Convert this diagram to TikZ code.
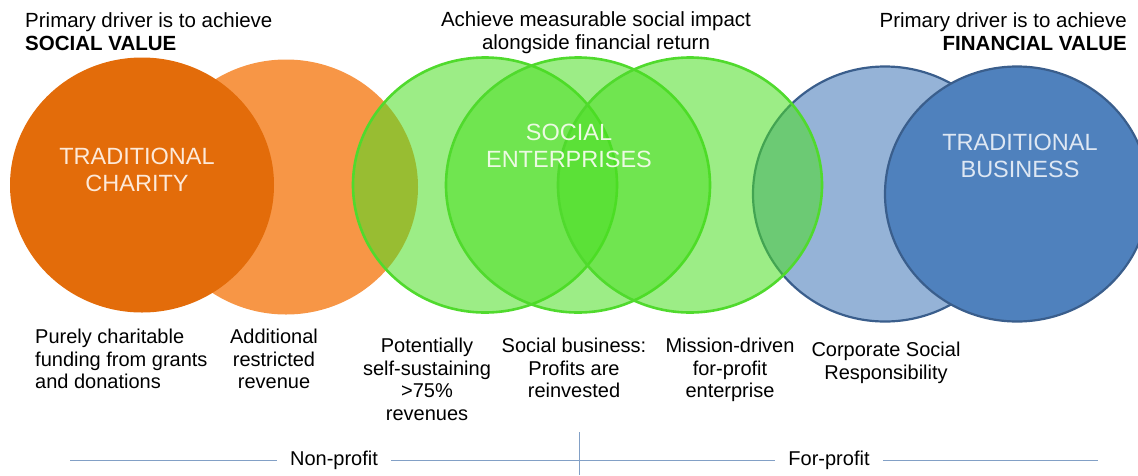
\documentclass[tikz,border=0pt]{standalone}
\usepackage{fontspec}
\setmainfont{Liberation Sans}
\usepackage{xcolor}
\usepackage{tikz}
\usetikzlibrary{shapes.geometric,positioning}
\definecolor{charityorange}{RGB}{227,108,10}
\definecolor{revenueorange}{RGB}{247,150,70}
\definecolor{segreen}{RGB}{75,222,35}
\definecolor{segreenrim}{RGB}{80,218,45}
\definecolor{csrblue}{RGB}{149,179,215}
\definecolor{bizblue}{RGB}{79,129,189}
\definecolor{bluerim}{RGB}{58,94,140}
\definecolor{axisblue}{RGB}{130,160,198}

\tikzset{
  bubble/.style={ellipse, minimum width=264pt, minimum height=255pt, inner sep=0pt},
  greenbubble/.style={bubble, fill=segreen, fill opacity=0.55, draw=segreenrim, line width=2.6pt},
  bluebubble/.style={bubble, draw=bluerim, line width=2.2pt},
  inlabel/.style={align=center, inner sep=0pt, font=\fontsize{23.5}{26.5}\selectfont},
  toplabel/.style={inner sep=0pt, font=\fontsize{20.5}{23}\selectfont},
  footlabel/.style={align=center, inner sep=0pt, font=\fontsize{20}{22.5}\selectfont},
  axislabel/.style={inner ysep=0pt, inner xsep=13pt, font=\fontsize{20}{22.5}\selectfont},
  axisline/.style={axisblue, line width=0.9pt}
}

\begin{document}
\begin{tikzpicture}[x=1pt, y=-1pt]
    \clip (0,0) rectangle (1138,475);

    % Charity side
    \node[bubble, fill=revenueorange] (revenue) at (286,187) {};
    \node[bubble, fill=charityorange] (charity) at (142,185) {};

    % Business side
    \node[bluebubble, fill=csrblue] (csr) at (885,194) {};
    \node[bluebubble, fill=bizblue] (business) at (1017,194) {};

    % Social enterprises
    \foreach \name/\x in {seA/485, seB/578, seC/690}
      \node[greenbubble] (\name) at (\x,185) {};

    % Circle labels
    \node[inlabel, text={rgb,255:red,253;green,233;blue,217}] (charitytext) at (137,170) {TRADITIONAL\\CHARITY};
    \node[inlabel, text={rgb,255:red,236;green,250;blue,226}] (setext) at (569,146) {SOCIAL\\ENTERPRISES};
    \node[inlabel, text={rgb,255:red,222;green,231;blue,243}] (biztext) at (1020,156) {TRADITIONAL\\BUSINESS};

    % Top labels
    \node[toplabel, align=left, anchor=north west] (socialgoal) at (25,12)
      {Primary driver is to achieve\\\textbf{SOCIAL VALUE}};
    \node[toplabel, align=center, anchor=north] (mixgoal) at (596,11)
      {Achieve measurable social impact\\alongside financial return};
    \node[toplabel, align=right, anchor=north east] (financegoal) at (1127,12)
      {Primary driver is to achieve\\\textbf{FINANCIAL VALUE}};

    % Bottom labels
    \node[footlabel, align=left, anchor=north west] (grants) at (35,329)
      {Purely charitable\\funding from grants\\and donations};
    \node[footlabel, anchor=north] (restricted) at (274,329) {Additional\\restricted\\revenue};
    \node[footlabel, anchor=north] (sustaining) at (427,338) {Potentially\\self-sustaining\\>75\%\\revenues};
    \node[footlabel, anchor=north] (reinvested) at (574,338) {Social business:\\Profits are\\reinvested};
    \node[footlabel, anchor=north] (mission) at (730,338) {Mission-driven\\for-profit\\enterprise};
    \node[footlabel, anchor=north] (responsibility) at (886,342) {Corporate Social\\Responsibility};

    % Axis
    \node[axislabel] (nonprofit) at (334,460) {Non-profit};
    \node[axislabel] (forprofit) at (829,460) {For-profit};
    \coordinate (axisL) at (70,460);
    \coordinate (axisR) at (1098,460);
    \coordinate (tickTop) at (579,432);
    \coordinate (tickBot) at (579,475);
    \draw[axisline] (axisL) -- (nonprofit.west);
    \draw[axisline] (nonprofit.east) -- (forprofit.west);
    \draw[axisline] (forprofit.east) -- (axisR);
    \draw[axisline] (tickTop) -- (tickBot);
\end{tikzpicture}
\end{document}
